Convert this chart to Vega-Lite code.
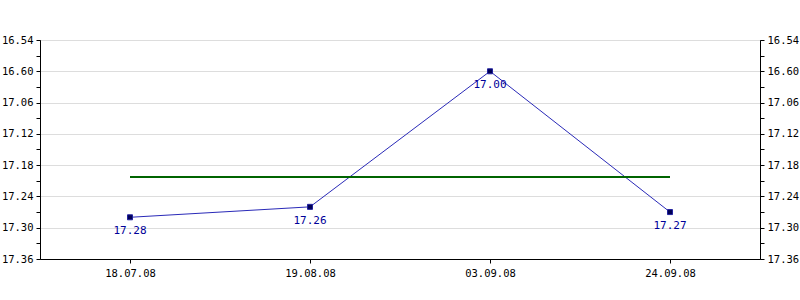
{
  "$schema": "https://vega.github.io/schema/vega-lite/v6.json",
  "autosize": {"type": "none"},
  "width": 720,
  "height": 219,
  "padding": {"left": 40, "top": 40, "right": 40, "bottom": 41},
  "background": "white",
  "config": {
    "view": {"stroke": "black", "strokeWidth": 1},
    "font": "DejaVu Sans Mono",
    "axis": {"labelFont": "DejaVu Sans Mono", "labelFontSize": 10.5, "labelColor": "black", "domainColor": "black", "tickColor": "black"}
  },
  "data": {"values": [
    {"date": "18.07.08", "value": 17.28},
    {"date": "19.08.08", "value": 17.26},
    {"date": "03.09.08", "value": 17.00},
    {"date": "24.09.08", "value": 17.27}
  ]},
  "encoding": {
    "x": {"field": "date", "type": "ordinal", "sort": null,
      "scale": {"type": "point", "padding": 0.5},
      "axis": {"title": null, "labelAngle": 0, "tickSize": 4, "labelPadding": 5, "domain": true, "grid": false}},
    "y": {"field": "value", "type": "quantitative", "axis": null,
      "scale": {"domain": [16.94, 17.36], "reverse": true, "zero": false, "nice": false}}
  },
  "layer": [
    {
      "mark": {"type": "line", "color": "#2a2ab8", "strokeWidth": 1},
      "encoding": {
        "y": {"field": "value", "type": "quantitative",
          "axis": {"orient": "left", "title": null,
            "values": [16.94, 16.97, 17.0, 17.03, 17.06, 17.09, 17.12, 17.15, 17.18, 17.21, 17.24, 17.27, 17.3, 17.33, 17.36],
            "labelExpr": "round((datum.value-16.94)/0.03) % 2 == 1 ? '' : (datum.value < 16.97 ? '16.54' : (datum.value < 17.03 ? '16.60' : format(datum.value, '.2f')))",
            "grid": true,
            "gridColor": {"condition": {"test": "round((datum.value-16.94)/0.03) % 2 == 1", "value": "transparent"}, "value": "#dddddd"},
            "tickSize": 4, "labelPadding": 3, "labelFlush": false, "labelOverlap": false}}
      }
    },
    {
      "mark": {"type": "line", "color": "#006400", "strokeWidth": 2},
      "transform": [{"joinaggregate": [{"op": "mean", "field": "value", "as": "avg"}]}],
      "encoding": {
        "y": {"field": "avg", "type": "quantitative",
          "axis": {"orient": "right", "title": null,
            "values": [16.94, 16.97, 17.0, 17.03, 17.06, 17.09, 17.12, 17.15, 17.18, 17.21, 17.24, 17.27, 17.3, 17.33, 17.36],
            "labelExpr": "round((datum.value-16.94)/0.03) % 2 == 1 ? '' : (datum.value < 16.97 ? '16.54' : (datum.value < 17.03 ? '16.60' : format(datum.value, '.2f')))",
            "grid": false,
            "tickSize": 4, "labelPadding": 3, "labelFlush": false, "labelOverlap": false}}
      }
    },
    {
      "mark": {"type": "point", "shape": "square", "size": 25, "filled": true, "fill": "#000055", "stroke": "#2020a0", "strokeWidth": 1, "opacity": 1}
    },
    {
      "mark": {"type": "text", "color": "#000099", "font": "DejaVu Sans Mono", "fontSize": 11, "dy": 14, "baseline": "middle"},
      "encoding": {"text": {"field": "value", "type": "quantitative", "format": ".2f"}}
    }
  ],
  "resolve": {"axis": {"y": "independent"}}
}
